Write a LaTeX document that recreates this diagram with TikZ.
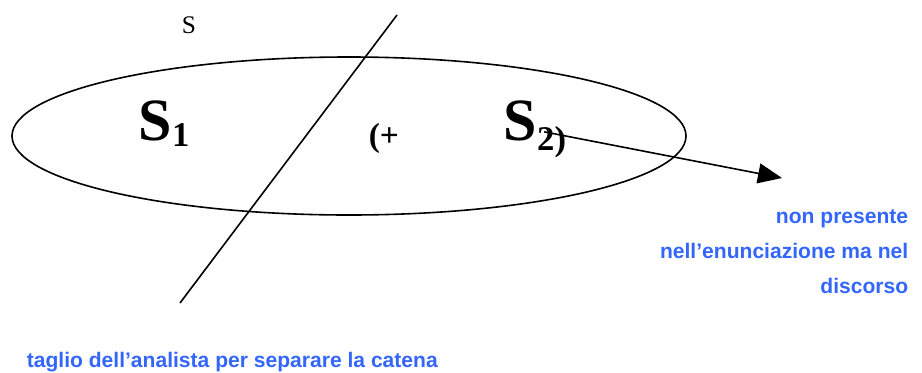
\documentclass[tikz,border=0pt]{standalone}
\usepackage{fontspec}
\setmainfont{Liberation Serif}
\newfontfamily\notefont{Liberation Sans}
\usetikzlibrary{shapes.geometric,arrows.meta,positioning}
\definecolor{noteblue}{RGB}{51,102,255}
\newcommand{\lowidx}[2]{\raisebox{-#1}{\fontsize{26}{26}\selectfont #2}}

\begin{document}
\begin{tikzpicture}[x=0.75pt, y=-0.75pt,
    >={Triangle[length=18pt,width=15pt]}, line width=1.2pt,
    chain/.style={ellipse, draw, minimum width=505.5pt, minimum height=118.5pt, inner sep=0pt},
    sig/.style={font=\fontsize{45}{45}\selectfont\bfseries, inner sep=0pt, anchor=base west},
    tag/.style={inner sep=0pt, anchor=base west},
    note/.style={font=\notefont\bfseries\fontsize{15.8}{26.25}\selectfont, text=noteblue, inner sep=0pt},
  ]
    \useasboundingbox (0,0) rectangle (922,372);

    \node[chain] (ell) at (349,136) {};
    \node[tag,font=\fontsize{19}{19}\selectfont] (lab) at (181,33) {S};
    \node[sig] (s1) at (138,140) {S\lowidx{5pt}{1}};
    \node[tag,font=\fontsize{25}{25}\selectfont\bfseries] (plus) at (368,146) {(+};
    \node[sig] (s2) at (503,140) {S\lowidx{8pt}{2)}};

    % taglio
    \coordinate (cuttop) at (397,15);
    \coordinate (cutbot) at (180,303);
    \draw (cuttop) -- (cutbot);

    \coordinate (tip) at (782,178);
    \draw[->] ([xshift=-17pt,yshift=-2pt]s2.east) -- (tip);

    \node[note, align=right, anchor=north east] (n1) at (909,209)
      {non presente\\nell’enunciazione ma nel\\discorso};
    \node[note, anchor=base west] (n2) at (26,367)
      {taglio dell’analista per separare la catena};
\end{tikzpicture}
\end{document}
